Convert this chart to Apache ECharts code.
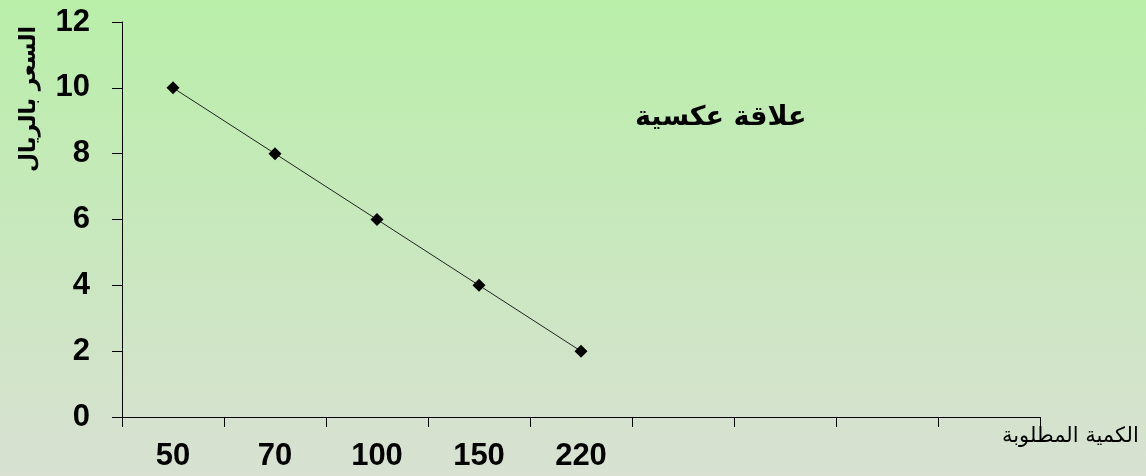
<!DOCTYPE html>
<html>
<head>
<meta charset="utf-8">
<script src="https://cdn.jsdelivr.net/npm/echarts@6/dist/echarts.min.js"></script>
<style>
  html, body { margin: 0; padding: 0; }
  #main { width: 1146px; height: 476px; }
</style>
</head>
<body>
<div id="main"></div>
<script>
// quantity demanded (categories) and price
var quantities = ['50', '70', '100', '150', '220', '', '', '', ''];
var prices = [10, 8, 6, 4, 2, null, null, null, null];
var yTicks = [0, 2, 4, 6, 8, 10, 12];

var chart = echarts.init(document.getElementById('main'));

var option = {
  backgroundColor: {
    type: 'linear', x: 0, y: 0, x2: 0, y2: 1,
    colorStops: [
      { offset: 0, color: '#b9efa9' },
      { offset: 1, color: '#d8e1d2' }
    ]
  },
  grid: { left: 122, right: 106, top: 22, bottom: 59 },
  xAxis: {
    type: 'category',
    data: quantities,
    boundaryGap: true,
    name: 'الكمية المطلوبة',
    nameLocation: 'end',
    nameGap: 0,
    nameTextStyle: {
      fontFamily: 'DejaVu Sans', fontSize: 21, color: '#000',
      align: 'left', verticalAlign: 'top', padding: [9, 0, 0, -38]
    },
    axisLine: { lineStyle: { color: '#000', width: 1 } },
    axisTick: { show: true, length: 10, lineStyle: { color: '#000' } },
    axisLabel: {
      color: '#000', fontFamily: 'Liberation Sans', fontWeight: 'bold',
      fontSize: 31, margin: 24
    },
    splitLine: { show: false }
  },
  yAxis: {
    type: 'value',
    min: yTicks[0],
    max: yTicks[yTicks.length - 1],
    interval: 2,
    axisLine: { show: true, lineStyle: { color: '#000', width: 1 } },
    axisTick: { show: true, length: 10, lineStyle: { color: '#000' } },
    axisLabel: {
      color: '#000', fontFamily: 'Liberation Sans', fontWeight: 'bold',
      fontSize: 31, margin: 32
    },
    splitLine: { show: false }
  },
  graphic: [{
    type: 'text',
    x: 29,
    y: 99,
    rotation: Math.PI / 2,
    style: {
      text: 'السعر بالريال',
      fontFamily: 'DejaVu Sans',
      fontWeight: 'bold',
      fontSize: 22,
      fill: '#000',
      align: 'center',
      verticalAlign: 'middle'
    }
  }, {
    type: 'text',
    left: 635,
    top: 104,
    style: {
      text: 'علاقة عكسية',
      fontFamily: 'DejaVu Sans',
      fontWeight: 'bold',
      fontSize: 27,
      fill: '#000'
    }
  }],
  series: [{
    type: 'line',
    data: prices,
    symbol: 'diamond',
    symbolSize: 13,
    itemStyle: { color: '#000' },
    lineStyle: { color: '#222', width: 1 },
    connectNulls: false,
    animation: false
  }]
};

chart.setOption(option);
</script>
</body>
</html>
